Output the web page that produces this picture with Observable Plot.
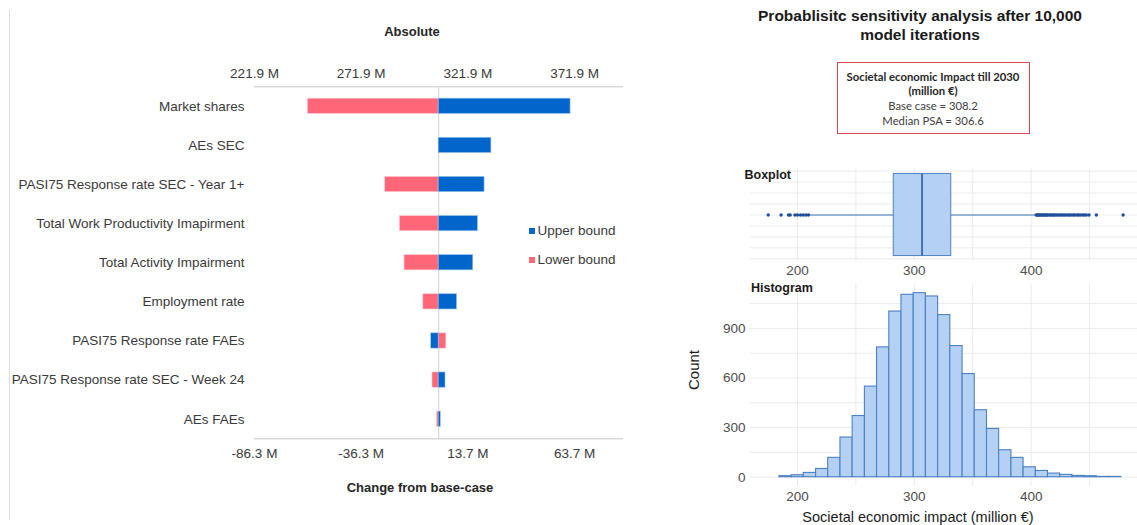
<!DOCTYPE html>
<html><head><meta charset="utf-8">
<script src="https://cdn.jsdelivr.net/npm/d3@7"></script>
<script src="https://cdn.jsdelivr.net/npm/@observablehq/plot@0.6"></script>
<style>
body{margin:0;background:#fff;}
#wrap{position:relative;width:1137px;height:525px;overflow:hidden;font-family:"Liberation Sans",Arial,sans-serif;background:#fff;}
#wrap svg{position:absolute;overflow:visible;}
.t{position:absolute;white-space:nowrap;}
</style></head><body><div id="wrap"></div>
<script>
// ---- Tornado (one-way sensitivity) data ----
const categories = [
  "Market shares",
  "AEs SEC",
  "PASI75 Response rate SEC - Year 1+",
  "Total Work Productivity Imapirment",
  "Total Activity Impairment",
  "Employment rate",
  "PASI75 Response rate FAEs",
  "PASI75 Response rate SEC - Week 24",
  "AEs FAEs"
];
const upperBound = [61.8, 24.7, 21.5, 18.4, 16.2, 8.6, -3.5, 3.2, 1.0];
const lowerBound = [-61.3, 0.3, -25.1, -18.2, -16.0, -7.2, 3.6, -2.9, -0.8];
const baseCase = 308.2;
const medianPSA = 306.6;
const changeTicks = [-86.3, -36.3, 13.7, 63.7];

// ---- PSA boxplot summary ----
const boxQ1 = 282.4, boxMedian = 306.6, boxQ3 = 331.6;
const whiskerLow = 210.3, whiskerHigh = 404.0;
const outliers = [175, 186, 192.3, 193.8, 197.8, 200, 202.6, 204.9, 207.2, 209.4,
  404.3, 405.1, 405.9, 406.8, 407.6, 408.5, 409.7, 410.4, 411.6, 412.3, 413.5, 414.2,
  415.8, 416.9, 418.1, 419.4, 420.2, 421.7, 423.0, 424.6, 425.9, 427.3, 428.8, 430.1,
  431.9, 433.0, 434.6, 436.2, 437.5, 439.4, 440.8, 442.3, 444.1, 445.6, 447.2, 449.5,
  455.8, 478.7];

// ---- PSA histogram ----
const binEdges = [184.5, 195.0, 205.4, 215.9, 226.3, 236.8, 247.2, 257.7, 268.1, 278.6,
  289.0, 299.5, 309.9, 320.4, 330.8, 341.3, 351.7, 362.2, 372.6, 383.1, 393.5, 404.0,
  414.4, 424.9, 435.3, 445.8, 456.2, 466.7, 477.1];
const histCounts = [6, 12, 26, 50, 117, 240, 370, 548, 785, 1002, 1103, 1113, 1093, 980,
  793, 624, 405, 292, 163, 117, 60, 38, 22, 14, 8, 6, 2, 2];
const psaTicks = [200, 300, 400];
const psaGridX = [200, 250, 300, 350, 400, 450];
const countTicks = [0, 300, 600, 900];
const countGrid = [0, 150, 300, 450, 600, 750, 900, 1050];
const boxGridY = [-0.4, -0.3, -0.2, -0.1, 0, 0.1, 0.2, 0.3, 0.4];

const BLUE = "#0066cc", PINK = "#ff6677";
const HFILL = "#b4d0f2", HSTROKE = "#4a80c4";
const GRID = "#ebebeb";

const wrap = document.getElementById("wrap");
function place(node, left, top) { node.style.left = left + "px"; node.style.top = top + "px"; wrap.appendChild(node); }
function text(str, css) { const d = document.createElement("div"); d.className = "t"; d.textContent = str; d.style.cssText += css; wrap.appendChild(d); return d; }

// ===== Tornado chart =====
const rows = categories.map((c, i) => ({i, c, up: upperBound[i], lo: lowerBound[i]}));
const tornado = Plot.plot({
  width: 640, height: 525,
  marginLeft: 254, marginRight: 17, marginTop: 86.25, marginBottom: 86.75,
  style: {fontFamily: "'Liberation Sans', Arial, sans-serif", fontSize: "13.5px", color: "#3a3a3a", background: "transparent"},
  x: {domain: [-86.3, 86.6]},
  y: {domain: [-0.5, 8.5], reverse: true},
  marks: [
    Plot.ruleY([-0.5, 8.5], {stroke: "#d9d9d9", strokeWidth: 1.5}),
    Plot.ruleX([0], {y1: -0.5, y2: 8.5, stroke: "#d9d9d9", strokeWidth: 1.2}),
    Plot.rect(rows, {x1: 0, x2: "lo", y1: d => d.i - 0.195, y2: d => d.i + 0.195, fill: PINK, stroke: "#ffd0d5", strokeWidth: 0.6}),
    Plot.rect(rows, {x1: 0, x2: "up", y1: d => d.i - 0.195, y2: d => d.i + 0.195, fill: BLUE, stroke: "#9cc3ea", strokeWidth: 0.6}),
    Plot.axisX(changeTicks, {anchor: "top", tickSize: 0, tickPadding: 9, label: null, fontSize: 13.5,
      tickFormat: d => (d + baseCase).toFixed(1) + " M"}),
    Plot.axisX(changeTicks, {anchor: "bottom", tickSize: 0, tickPadding: 10, label: null, fontSize: 13.5,
      tickFormat: d => d.toFixed(1) + " M"}),
    Plot.axisY(d3.range(categories.length), {anchor: "left", tickSize: 0, tickPadding: 10, label: null, fontSize: 13.5,
      tickFormat: i => categories[i]})
  ]
});
place(tornado, 0, 0);

// frame line at left
const border = document.createElement("div");
border.style.cssText = "position:absolute;left:9px;top:10px;width:0;height:510px;border-left:1px solid #dcdcdc;";
wrap.appendChild(border);

text("Absolute", "left:412px;top:24px;transform:translateX(-50%);font-weight:bold;font-size:13px;color:#262626;");
text("Change from base-case", "left:420px;top:480px;transform:translateX(-50%);font-weight:bold;font-size:13px;color:#262626;");

// legend
[["Upper bound", BLUE, 230.5], ["Lower bound", PINK, 259.5]].forEach(([lab, col, yc]) => {
  const sq = document.createElement("div");
  sq.style.cssText = `position:absolute;left:529px;top:${yc - 3}px;width:6px;height:6px;background:${col};`;
  wrap.appendChild(sq);
  text(lab, `left:537.5px;top:${yc - 8}px;font-size:13.5px;line-height:16px;color:#3a3a3a;`);
});

// ===== Right panel: title + info box =====
const title = text("", "left:920px;top:7px;transform:translateX(-50%);text-align:center;font-weight:bold;font-size:15.5px;line-height:18.5px;color:#1a1a1a;");
title.innerHTML = "Probablisitc sensitivity analysis after 10,000<br>model iterations";

const box = document.createElement("div");
box.style.cssText = "position:absolute;left:836.5px;top:61.5px;width:191px;border:1.5px solid #d9444f;font-family:Lato,'Open Sans',sans-serif;font-size:11.3px;line-height:14.7px;text-align:center;color:#404040;padding-top:7px;box-sizing:content-box;";
box.style.height = "63px";
box.innerHTML = `<div style="font-weight:bold;color:#262626">Societal economic Impact till 2030</div>
<div style="font-weight:bold;color:#262626">(million €)</div>
<div>Base case = ${baseCase.toFixed(1)}</div>
<div>Median PSA = ${medianPSA.toFixed(1)}</div>`;
wrap.appendChild(box);

// ===== Boxplot =====
const rightStyle = {fontFamily: "'Liberation Sans', Arial, sans-serif", fontSize: "13.5px", color: "#4d4d4d", background: "transparent"};
const boxplot = Plot.plot({
  width: 447, height: 120,
  marginLeft: 60, marginRight: 0, marginTop: 8.5, marginBottom: 19.5,
  style: rightStyle,
  x: {domain: [159.8, 491]},
  y: {domain: [-0.42, 0.42], axis: null},
  marks: [
    Plot.ruleX(psaGridX, {stroke: GRID}),
    Plot.ruleY(boxGridY, {stroke: GRID}),
    Plot.ruleY([0], {x1: whiskerLow, x2: boxQ1, stroke: "#3f72b8", strokeWidth: 1}),
    Plot.ruleY([0], {x1: boxQ3, x2: whiskerHigh, stroke: "#3f72b8", strokeWidth: 1}),
    Plot.rect([0], {x1: boxQ1, x2: boxQ3, y1: -0.375, y2: 0.375, fill: HFILL, stroke: HSTROKE, strokeWidth: 1}),
    Plot.ruleX([boxMedian], {y1: -0.375, y2: 0.375, stroke: "#2a5ca6", strokeWidth: 1.6}),
    Plot.dot(outliers, {x: d => d, y: 0, r: 1.7, fill: "#1f4f9c", stroke: null}),
    Plot.axisX(psaTicks, {anchor: "bottom", tickSize: 0, tickPadding: 4, label: null, fontSize: 13.5})
  ]
});
place(boxplot, 690, 160);
text("Boxplot", "left:744.5px;top:167px;font-weight:bold;font-size:12.5px;line-height:16px;color:#1a1a1a;");

// ===== Histogram =====
const hist = Plot.plot({
  width: 447, height: 245,
  marginLeft: 60, marginRight: 0, marginTop: 3.4, marginBottom: 39.1,
  style: rightStyle,
  x: {domain: [159.8, 491]},
  y: {domain: [-55.6, 1169]},
  marks: [
    Plot.ruleX(psaGridX, {stroke: GRID}),
    Plot.ruleY(countGrid, {stroke: GRID}),
    Plot.rect(histCounts, {x1: (d, i) => binEdges[i], x2: (d, i) => binEdges[i + 1], y1: 0, y2: d => d,
      fill: HFILL, stroke: HSTROKE, strokeWidth: 1.1}),
    Plot.axisX(psaTicks, {anchor: "bottom", tickSize: 0, tickPadding: 5, label: null, fontSize: 13.5}),
    Plot.axisY(countTicks, {anchor: "left", tickSize: 0, tickPadding: 5, label: null, fontSize: 13.5})
  ]
});
place(hist, 690, 280);
text("Histogram", "left:751px;top:280px;font-weight:bold;font-size:12.5px;line-height:16px;color:#1a1a1a;");
text("Count", "left:693px;top:370px;transform:translate(-50%,-50%) rotate(-90deg);font-size:15px;color:#1a1a1a;");
text("Societal economic impact (million €)", "left:918px;top:508px;transform:translateX(-50%);font-size:14.5px;line-height:18px;color:#1a1a1a;");
</script></body></html>
